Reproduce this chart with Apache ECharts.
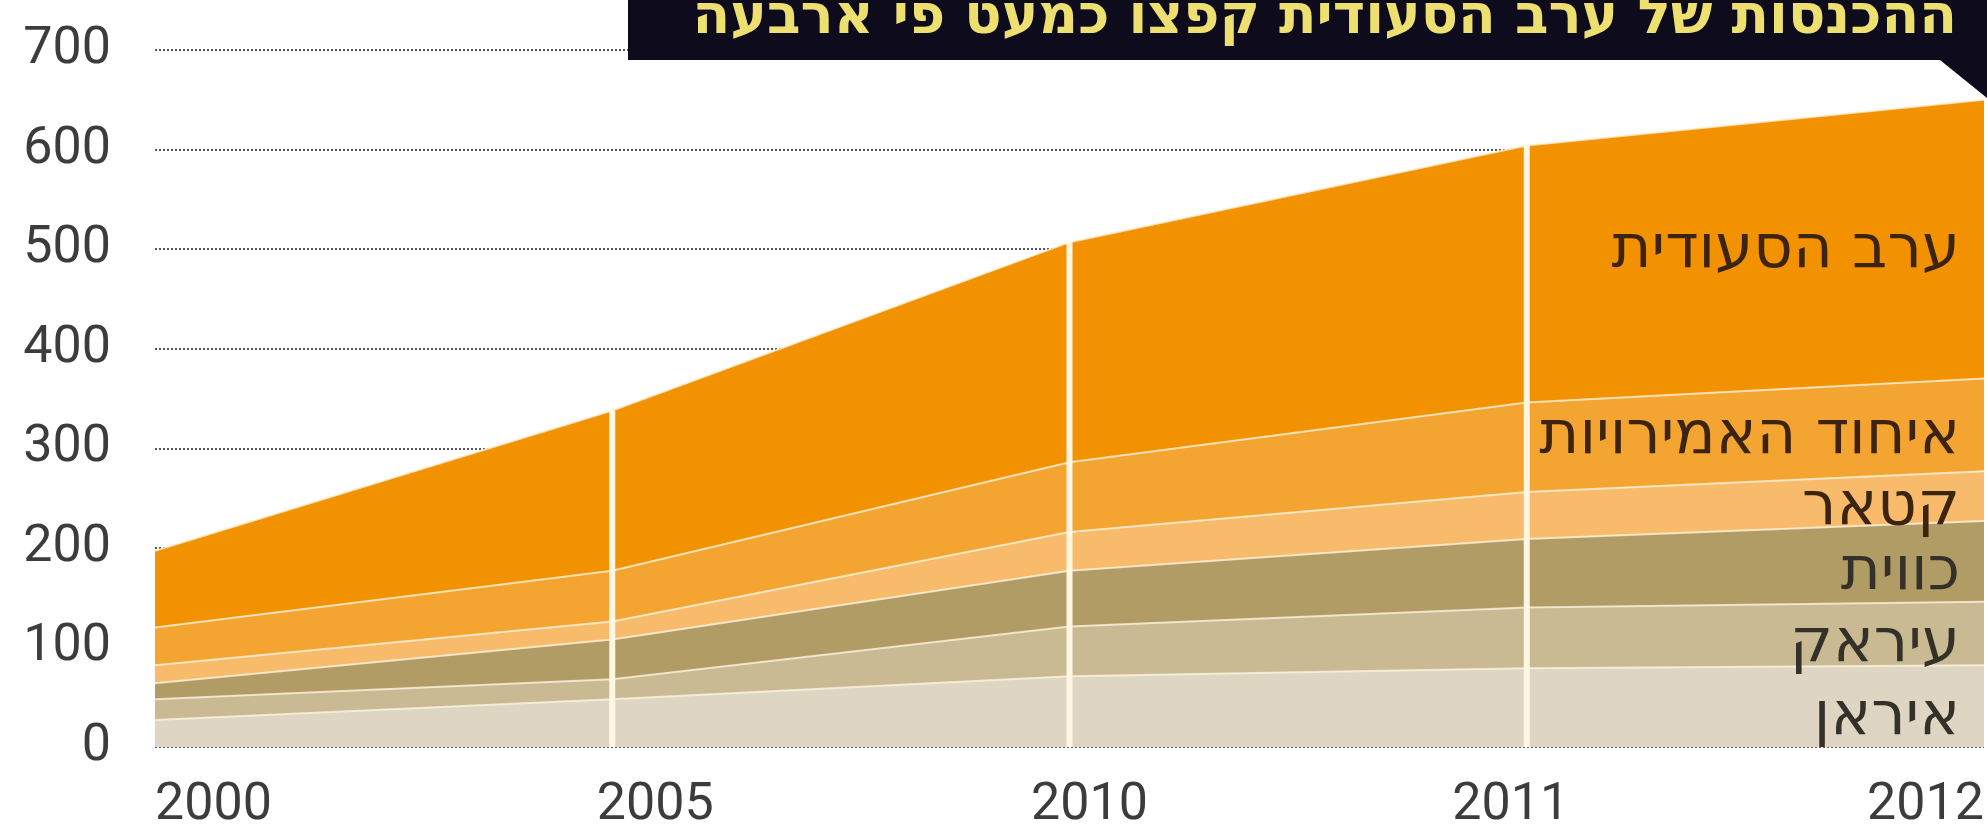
<!DOCTYPE html>
<html>
<head>
<meta charset="utf-8">
<script src="https://cdn.jsdelivr.net/npm/echarts@6/dist/echarts.min.js"></script>
<style>
html,body{margin:0;padding:0;background:#fff;}
#c{width:1987px;height:832px;}
</style>
</head>
<body>
<div id="c"></div>
<script>
// ---- data ----
var years = ['2000', '2005', '2010', '2011', '2012'];
var iran   = [27, 48, 71, 79, 82];
var iraq   = [21, 20, 50, 61, 64];
var kuwait = [16, 40, 56, 69, 81];
var qatar  = [18, 18, 39, 47, 50];
var uae    = [38, 51, 70, 90, 93];
var saudi  = [77, 161, 221, 258, 280];
var yTicks = [0, 100, 200, 300, 400, 500, 600, 700];
var seriesNames = ['איראן', 'עיראק', 'כווית', 'קטאר', 'איחוד האמירויות', 'ערב הסעודית'];
var titleText = 'ההכנסות של ערב הסעודית קפצו כמעט פי ארבעה';
var dividerYears = ['2005', '2010', '2011'];

// ---- styling ----
var colors = ['#DED6C2', '#C9BA93', '#B29C66', '#F7BB6B', '#F4A430', '#F39200'];
var valueSets = [iran, iraq, kuwait, qatar, uae, saudi];
var labelShift = {'2005': [0, 0, 0, 86], '2010': [0, 0, 0, 40], '2011': [0, 32, 0, 0]};

var totals = years.map(function (y, i) {
  return valueSets.reduce(function (s, arr) { return s + arr[i]; }, 0);
});

var chart = echarts.init(document.getElementById('c'), null, {renderer: 'canvas'});

var series = valueSets.map(function (arr, k) {
  return {
    name: seriesNames[k],
    type: 'line',
    stack: 'total',
    data: arr,
    symbol: 'none',
    smooth: false,
    z: 2,
    lineStyle: {width: 2, color: 'rgba(255,246,225,0.75)'},
    areaStyle: {color: colors[k], opacity: 1},
    emphasis: {disabled: true}
  };
});

series.push({
  type: 'custom',
  z: 5,
  data: dividerYears.map(function (y) {
    var i = years.indexOf(y);
    return [i, totals[i]];
  }),
  renderItem: function (params, api) {
    var p0 = api.coord([api.value(0), 0]);
    var p1 = api.coord([api.value(0), api.value(1)]);
    return {
      type: 'rect',
      shape: {x: p0[0] - 3, y: p1[1], width: 6, height: p0[1] - p1[1]},
      style: {fill: '#FFF7E4'}
    };
  },
  silent: true
});

var xData = years.map(function (y) {
  if (labelShift[y]) return {value: y, textStyle: {padding: labelShift[y]}};
  return y;
});

chart.setOption({
  animation: false,
  backgroundColor: '#ffffff',
  grid: {left: 155, right: 0, top: 50, bottom: 82, containLabel: false},
  xAxis: {
    type: 'category',
    boundaryGap: false,
    data: xData,
    axisLine: {show: false},
    axisTick: {show: false},
    axisLabel: {
      fontFamily: 'Roboto',
      fontSize: 52,
      color: '#3c3c3c',
      margin: 33,
      interval: 0,
      alignMinLabel: 'left',
      alignMaxLabel: 'right'
    },
    splitLine: {show: false}
  },
  yAxis: {
    type: 'value',
    min: yTicks[0],
    max: yTicks[yTicks.length - 1],
    interval: 100,
    axisLine: {show: false},
    axisTick: {show: false},
    axisLabel: {
      fontFamily: 'Roboto',
      fontSize: 52,
      color: '#3c3c3c',
      margin: 44
    },
    splitLine: {show: true, lineStyle: {type: [2, 2], width: 2, color: '#555'}}
  },
  series: series
});

// labels inside bands at the right edge, positioned through the chart's own scales
var lastIdx = years.length - 1;
var graphics = [];
var cum = 0;
valueSets.forEach(function (arr, k) {
  var mid = cum + arr[lastIdx] / 2;
  cum += arr[lastIdx];
  var p = chart.convertToPixel({gridIndex: 0}, [lastIdx, mid]);
  graphics.push({
    type: 'text',
    x: p[0] - 24,
    y: p[1] + 12,
    z: 10,
    style: {
      text: seriesNames[k],
      fill: k >= 3 ? '#3d2410' : '#34302a',
      font: '61px "DejaVu Sans"',
      textAlign: 'right',
      textVerticalAlign: 'middle'
    }
  });
});

// title banner
graphics.push({
  type: 'rect', z: 20,
  shape: {x: 628, y: 0, width: 1359, height: 60},
  style: {fill: '#0E0B1C'}
});
graphics.push({
  type: 'polygon', z: 20,
  shape: {points: [[1940, 60], [1987, 60], [1987, 98]]},
  style: {fill: '#0E0B1C'}
});
graphics.push({
  type: 'text', z: 21,
  x: 1957, y: 46,
  style: {
    text: titleText,
    fill: '#EEE070',
    font: 'bold 55px "DejaVu Sans"',
    textAlign: 'right',
    textVerticalAlign: 'bottom'
  }
});

chart.setOption({graphic: graphics});
</script>
</body>
</html>
